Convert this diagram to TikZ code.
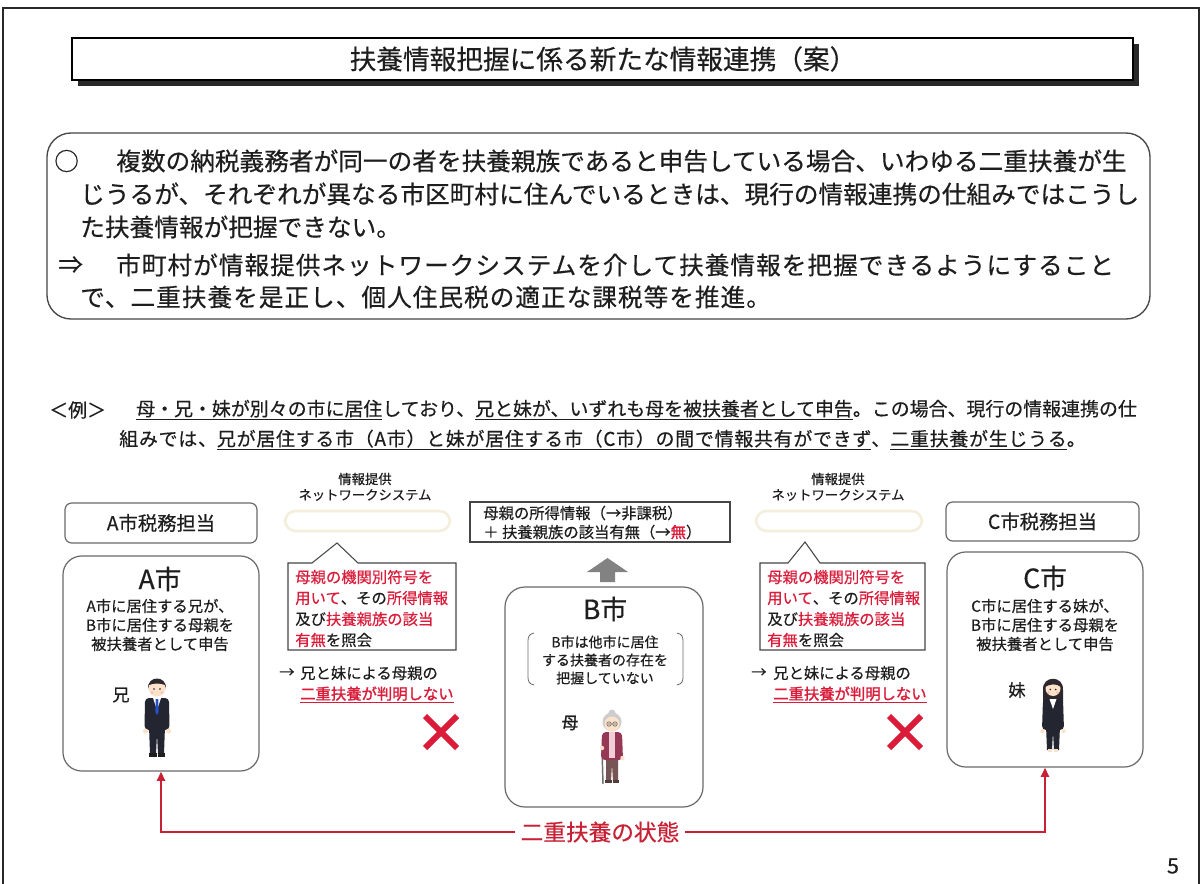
\documentclass[tikz,border=0pt]{standalone}
\usepackage{fontspec}
\setmainfont{Noto Sans CJK JP}[FakeBold=0.4]
\newfontfamily\jpbold{Noto Sans CJK JP}[FakeBold=1.5]
\newfontfamily\jpwide{Noto Sans CJK JP}[LetterSpace=4,FakeBold=0.4]
\usetikzlibrary{arrows.meta,fit}

\newcommand\fsz[1]{\fontsize{#1}{#1}\selectfont}

\definecolor{jred}{RGB}{218,28,58}
\definecolor{linkred}{RGB}{200,32,52}
\definecolor{boxgray}{RGB}{105,105,105}
\definecolor{sumgray}{RGB}{70,70,70}
\definecolor{txtc}{RGB}{30,30,30}
\definecolor{tubec}{RGB}{244,239,220}
\definecolor{shadowc}{RGB}{40,40,40}
\definecolor{arrowgray}{RGB}{130,130,130}
\definecolor{skinc}{RGB}{253,226,203}
\definecolor{hairc}{RGB}{45,40,45}
\definecolor{suitc}{RGB}{35,38,48}
\definecolor{tiec}{RGB}{40,80,200}
\definecolor{shoec}{RGB}{30,30,30}
\definecolor{blushc}{RGB}{250,190,180}
\definecolor{grayhair}{RGB}{205,205,205}
\definecolor{cardc}{RGB}{150,55,85}
\definecolor{innerc}{RGB}{240,205,215}
\definecolor{pantc}{RGB}{120,85,85}
\definecolor{canec}{RGB}{110,110,110}

\tikzset{
  txt/.style={inner sep=0pt, text=txtc},
  headbox/.style={draw=boxgray, line width=0.9pt, rounded corners=5pt, inner sep=0pt},
  citybox/.style={draw=boxgray, line width=0.9pt, rounded corners=14pt, inner sep=0pt},
  tube/.style={draw=tubec, line width=2pt, rounded corners=8pt, inner sep=0pt},
  callout/.style={draw=sumgray, line width=0.8pt, fill=white},
  link/.style={draw=linkred, line width=1.8pt, -{Triangle[width=6pt,length=7pt]}},
  cross/.style={draw=jred, line width=4.5pt},
  pics/brother/.style={code={
    \fill[suitc] (-8,38) -- (8,38) -- (7,66) -- (1,66) -- (0,46) -- (-1,66) -- (-7,66) -- cycle;
    \fill[shoec] (-8,65) rectangle (-0.5,69);
    \fill[shoec] (0.5,65) rectangle (8,69);
    \fill[suitc,rounded corners=3pt] (-12,10) -- (12,10) -- (12.5,42) -- (-12.5,42) -- cycle;
    \fill[white] (-4,10) -- (4,10) -- (0,22) -- cycle;
    \fill[tiec] (-1.3,11) -- (1.3,11) -- (1.6,24) -- (0,27) -- (-1.6,24) -- cycle;
    \fill[skinc] (-11.5,43) circle (2.5) (11.5,43) circle (2.5);
    \fill[skinc] (0,0) circle (8.5);
    \fill[hairc] (-9,1) .. controls (-10,-13) and (10,-13) .. (9,1) -- (8,-3) .. controls (3,-5) and (-3,-5) .. (-8,-3) -- cycle;
    \fill[txtc] (-3,1) circle (0.9) (3,1) circle (0.9);
    \fill[blushc] (-5,4.5) circle (1.5) (5,4.5) circle (1.5);
  }},
  pics/sister/.style={code={
    \fill[hairc] (-10,2) .. controls (-11,-13) and (11,-13) .. (10,2) -- (10,15) -- (-10,15) -- cycle;
    \fill[suitc] (-7,38) -- (7,38) -- (6,62) -- (1,62) -- (0,44) -- (-1,62) -- (-6,62) -- cycle;
    \fill[skinc] (-5,61) rectangle (-1,64);
    \fill[skinc] (1,61) rectangle (5,64);
    \fill[suitc,rounded corners=3pt] (-10,11) -- (10,11) -- (11,42) -- (-11,42) -- cycle;
    \fill[white] (-3.5,11) -- (3.5,11) -- (0,21) -- cycle;
    \fill[skinc] (-10.5,43) circle (2.2) (10.5,43) circle (2.2);
    \fill[skinc] (0,0.5) circle (7.5);
    \fill[hairc] (-8,-1) .. controls (-6,-11) and (6,-11) .. (8,-1) .. controls (3,-5) and (-3,-4) .. (-8,-1) -- cycle;
    \fill[txtc] (-2.8,1.5) circle (0.85) (2.8,1.5) circle (0.85);
    \fill[blushc] (-4.5,4.5) circle (1.3) (4.5,4.5) circle (1.3);
  }},
  pics/mother/.style={code={
    \draw[canec, line width=1.1pt] (-10,26) -- (-9,62);
    \fill[pantc] (-6,36) -- (6,36) -- (6,59) -- (1,59) -- (0,42) -- (-1,59) -- (-6,59) -- cycle;
    \fill[pantc!70!black] (-7,58) rectangle (-0.5,61);
    \fill[pantc!70!black] (0.5,58) rectangle (7,61);
    \fill[cardc,rounded corners=3pt] (-10,10) -- (10,10) -- (11,38) -- (-11,38) -- cycle;
    \fill[innerc] (-3,10) -- (3,10) -- (3,36) -- (-3,36) -- cycle;
    \fill[skinc] (-10,26) circle (2.2) (10.5,36) circle (2.2);
    \fill[grayhair] (0,-9) circle (3.5);
    \fill[grayhair] (0,0) circle (9.5);
    \fill[skinc] (0,2) circle (7.5);
    \draw[canec, line width=0.5pt] (-3,2) circle (2.2) (3,2) circle (2.2) (-0.8,2) -- (0.8,2);
    \fill[txtc] (-3,2) circle (0.7) (3,2) circle (0.7);
  }}
}

\begin{document}
\begin{tikzpicture}[x=0.75pt,y=-0.75pt]
\useasboundingbox (0,0) rectangle (1203,884);
\fill[white] (0,0) rectangle (1203,884);
% page frame
\draw[line width=1.2pt, shadowc] (3,884) -- (3,8) -- (1199,8) -- (1199,884);

% title bar with drop shadow
\fill[shadowc] (78,44) rectangle (1139,86);
\node[draw=black, line width=0.8pt, fill=white, inner sep=0pt, fit={(72,38) (1133,80)}] (titlebox) {};
\node[txt, font=\fsz{20}] (title) at (603,59) {扶養情報把握に係る新たな情報連携（案）};

% summary
\node[draw=sumgray, line width=1pt, rounded corners=18pt, inner sep=0pt, fit={(47,133) (1150,319)}] (summary) {};
\node[txt, font=\fsz{18.5}, anchor=west] (s1a) at (54,161) {○};
\node[txt, font=\fsz{18.5}, anchor=west] (s1b) at (116,161) {複数の納税義務者が同一の者を扶養親族であると申告している場合、いわゆる二重扶養が生};
\node[txt, font=\fsz{18.5}, anchor=west] (s2) at (80,194) {じうるが、それぞれが異なる市区町村に住んでいるときは、現行の情報連携の仕組みではこうし};
\node[txt, font=\fsz{18.5}, anchor=west] (s3) at (80,227) {た扶養情報が把握できない。};
\node[txt, font=\fsz{18.5}, anchor=west] (s4a) at (58,265) {⇒};
\node[txt, font=\jpwide\fsz{18.5}, anchor=west] (s4b) at (116,265) {市町村が情報提供ネットワークシステムを介して扶養情報を把握できるようにすること};
\node[txt, font=\jpwide\fsz{18.5}, anchor=west] (s5) at (80,297) {で、二重扶養を是正し、個人住民税の適正な課税等を推進。};

% example
\node[txt, font=\fsz{14.2}, anchor=west] (ex0) at (49,410) {＜例＞};
\node[txt, font=\fsz{14.2}, anchor=west] (ex1) at (136,410) {\underline{母・兄・妹が別々の市に居住}しており、\underline{兄と妹が、いずれも母を被扶養者として申告}。この場合、現行の情報連携の仕};
\node[txt, font=\jpwide\fsz{14.2}, anchor=west] (ex2) at (119,440) {組みでは、\underline{兄が居住する市（A市）と妹が居住する市（C市）の間で情報共有ができず}、\underline{二重扶養が生じうる}。};

% city A
\node[headbox, fit={(65,503) (257,543)}] (ahead) {};
\node[txt, font=\fsz{14.5}] (aheadt) at (ahead) {A市税務担当};
\node[citybox, fit={(63,556) (259,771)}] (abox) {};
\node[txt, font=\fsz{20}] (aname) at (160,579) {A市};
\node[txt, font=\fsz{11.5}] (at1) at (160,606) {A市に居住する兄が、};
\node[txt, font=\fsz{11.5}] (at2) at (160,625) {B市に居住する母親を};
\node[txt, font=\fsz{11.5}] (at3) at (160,644) {被扶養者として申告};
\node[txt, font=\fsz{13}] (alabel) at (121,695) {兄};
\pic at (157,688) {brother};

% network system, left
\node[txt, font=\fsz{10}] (n1a) at (365,479) {情報提供};
\node[txt, font=\fsz{10}] (n1b) at (365,495) {ネットワークシステム};
\node[tube, fit={(285,511) (450,531)}] (net1) {};
\draw[callout] (288,563) -- (312,563) -- (337,543) -- (358,563) -- (456,563) -- (456,650) -- (288,650) -- cycle;
\node[txt, font=\fsz{11.5}, anchor=west] (q1a) at (295,577) {\textcolor{jred}{母親の機関別符号を}};
\node[txt, font=\fsz{11.5}, anchor=west] (q1b) at (295,598) {\textcolor{jred}{用いて}、その\textcolor{jred}{所得情報}};
\node[txt, font=\fsz{11.5}, anchor=west] (q1c) at (295,619) {及び\textcolor{jred}{扶養親族の該当}};
\node[txt, font=\fsz{11.5}, anchor=west] (q1d) at (295,640) {\textcolor{jred}{有無}を照会};
\node[txt, font=\fsz{11.5}] (r1a) at (287,673) {→};
\node[txt, font=\fsz{11.5}, anchor=west] (r1b) at (300,673) {兄と妹による母親の};
\node[txt, font=\fsz{11.5}, anchor=west] (r1c) at (300,695) {\textcolor{jred}{\jpbold\underline{二重扶養が判明しない}}};
\draw[cross] (425,716) -- (457,748) (425,748) -- (457,716);

% city B
\node[draw=sumgray, line width=0.8pt, inner sep=0pt, fit={(470,502) (730,542)}] (binfo) {};
\node[txt, font=\fsz{11.5}, anchor=west] (bi1) at (483,513) {母親の所得情報（→非課税）};
\node[txt, font=\fsz{11.5}, anchor=west] (bi2) at (483,532) {＋ 扶養親族の該当有無（→\textcolor{jred}{\jpbold 無}）};
\fill[arrowgray] (607.5,558) -- (628,572) -- (615,572) -- (615,582) -- (600,582) -- (600,572) -- (587,572) -- cycle;
\node[citybox, rounded corners=15pt, fit={(505,587) (703,807)}] (bbox) {};
\node[txt, font=\fsz{20}] (bname) at (605,609) {B市};
\node[txt, font=\fsz{10.5}] (bt1) at (605,642) {B市は他市に居住};
\node[txt, font=\fsz{10.5}] (bt2) at (605,660) {する扶養者の存在を};
\node[txt, font=\fsz{10.5}] (bt3) at (605,678) {把握していない};
\draw[boxgray, line width=0.6pt] (534,633) .. controls (529,634) and (528,637) .. (528,641) -- (528,677) .. controls (528,681) and (529,684) .. (534,685);
\draw[boxgray, line width=0.6pt] (677,633) .. controls (682,634) and (683,637) .. (683,641) -- (683,677) .. controls (683,681) and (682,684) .. (677,685);
\node[txt, font=\jpbold\fsz{12.5}] (blabel) at (570,723) {母};
\pic at (612,722) {mother};

% network system, right
\node[txt, font=\fsz{10}] (n2a) at (838,479) {情報提供};
\node[txt, font=\fsz{10}] (n2b) at (838,495) {ネットワークシステム};
\node[tube, fit={(756,511) (922,531)}] (net2) {};
\draw[callout] (760,563) -- (788,563) -- (805,542) -- (820,563) -- (925,563) -- (925,650) -- (760,650) -- cycle;
\node[txt, font=\fsz{11.5}, anchor=west] (q2a) at (767,577) {\textcolor{jred}{母親の機関別符号を}};
\node[txt, font=\fsz{11.5}, anchor=west] (q2b) at (767,598) {\textcolor{jred}{用いて}、その\textcolor{jred}{所得情報}};
\node[txt, font=\fsz{11.5}, anchor=west] (q2c) at (767,619) {及び\textcolor{jred}{扶養親族の該当}};
\node[txt, font=\fsz{11.5}, anchor=west] (q2d) at (767,640) {\textcolor{jred}{有無}を照会};
\node[txt, font=\fsz{11.5}] (r2a) at (759,673) {→};
\node[txt, font=\fsz{11.5}, anchor=west] (r2b) at (773,673) {兄と妹による母親の};
\node[txt, font=\fsz{11.5}, anchor=west] (r2c) at (773,695) {\textcolor{jred}{\jpbold\underline{二重扶養が判明しない}}};
\draw[cross] (889,716) -- (921,748) (889,748) -- (921,716);

% city C
\node[headbox, fit={(946,502) (1139,541)}] (chead) {};
\node[txt, font=\fsz{14.5}] (cheadt) at (chead) {C市税務担当};
\node[citybox, fit={(947,552) (1143,767)}] (cbox) {};
\node[txt, font=\fsz{20}] (cname) at (1045,578) {C市};
\node[txt, font=\fsz{11.5}] (ct1) at (1045,606) {C市に居住する妹が、};
\node[txt, font=\fsz{11.5}] (ct2) at (1045,625) {B市に居住する母親を};
\node[txt, font=\fsz{11.5}] (ct3) at (1045,644) {被扶養者として申告};
\node[txt, font=\fsz{13}] (clabel) at (1017,690) {妹};
\pic at (1053,688) {sister};

% double-dependent link between A and C
\node[txt, text=linkred, font=\fsz{17}, inner xsep=4pt] (dual) at (600,832) {二重扶養の状態};
\draw[link] (dual.west) -| (abox.south);
\draw[link] (dual.east) -| (cbox.south);

% page number
\node[txt, font=\fsz{16}] (pageno) at (1173,866) {5};
\end{tikzpicture}
\end{document}
